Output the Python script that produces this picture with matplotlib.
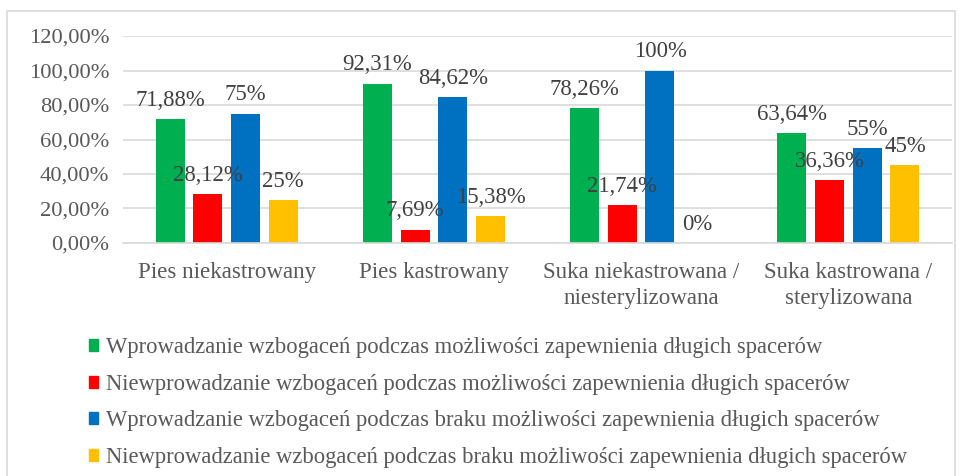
import numpy as np
import matplotlib
matplotlib.use("Agg")
import matplotlib.pyplot as plt
from matplotlib.patches import Patch, Rectangle

plt.rcParams['font.family'] = ['Liberation Serif', 'DejaVu Serif']

categories = ["Pies niekastrowany", "Pies kastrowany",
              "Suka niekastrowana /\nniesterylizowana",
              "Suka kastrowana /\nsterylizowana"]
series_names = [
    "Wprowadzanie wzbogaceń podczas możliwości zapewnienia długich spacerów",
    "Niewprowadzanie wzbogaceń podczas możliwości zapewnienia długich spacerów",
    "Wprowadzanie wzbogaceń podczas braku możliwości zapewnienia długich spacerów",
    "Niewprowadzanie wzbogaceń podczas braku możliwości zapewnienia długich spacerów",
]
green_vals = [71.88, 92.31, 78.26, 63.64]
red_vals = [28.12, 7.69, 21.74, 36.36]
blue_vals = [75, 84.62, 100, 55]
yellow_vals = [25, 15.38, 0, 45]
colors = ["#00B050", "#FF0000", "#0070C0", "#FFC000"]


def fmt(v):
    if float(v).is_integer():
        return "%d%%" % v
    return ("%.2f%%" % v).replace(".", ",")


fig = plt.figure(figsize=(9.64, 4.76), dpi=100)
fig.patches.append(Rectangle((7 / 964, -0.1), 948 / 964, 1.1 - 11 / 476,
                             transform=fig.transFigure, fill=False,
                             edgecolor="#D9D9D9", linewidth=1.2))
ax = fig.add_axes([123 / 964, 1 - 243 / 476, 829 / 964, 207 / 476])

x = np.arange(len(categories))
width = 0.14
step = 0.182
all_vals = [green_vals, red_vals, blue_vals, yellow_vals]
for i, (vals, c) in enumerate(zip(all_vals, colors)):
    bars = ax.bar(x + (i - 1.5) * step, vals, width, color=c, zorder=2)
    ax.bar_label(bars, labels=[fmt(v) for v in vals], padding=6,
                 fontsize=16.4, color="#404040")

ax.set_xlim(-0.5, len(categories) - 0.5)
ax.set_ylim(0, 120)
ax.set_yticks(np.arange(0, 121, 20))
ax.set_yticklabels([("%.2f%%" % t).replace(".", ",") for t in np.arange(0, 121, 20)])
ax.set_xticks(x)
ax.set_xticklabels(categories, fontsize=16.6, linespacing=1.3)
ax.tick_params(axis="both", length=0, labelcolor="#595959")
ax.tick_params(axis="y", pad=10, labelsize=16.2)
ax.tick_params(axis="x", pad=13.5)
ax.yaxis.grid(True, color="#D9D9D9", linewidth=1.2, zorder=0)
ax.set_axisbelow(True)
for s in ["top", "right", "left"]:
    ax.spines[s].set_visible(False)
ax.spines["bottom"].set_color("#D9D9D9")
ax.spines["bottom"].set_linewidth(1.2)

handles = [Patch(color=c) for c in colors]
fig.legend(handles, series_names, loc="upper left",
           bbox_to_anchor=(80 / 964, 1 - 328 / 476), frameon=False,
           fontsize=16.3, labelcolor="#595959", handlelength=0.4,
           handleheight=0.45, handletextpad=0.35, labelspacing=0.69,
           borderaxespad=0)

fig.savefig("out.png", dpi=100)
